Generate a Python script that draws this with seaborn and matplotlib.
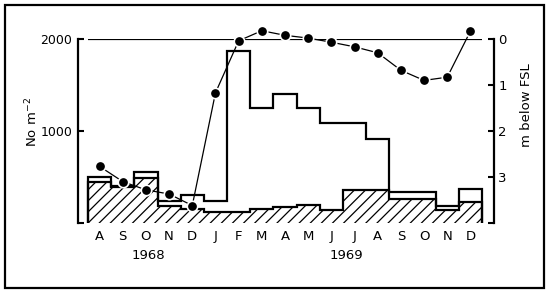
import numpy as np
import matplotlib
matplotlib.use('Agg')
import matplotlib.pyplot as plt
import seaborn as sns
from matplotlib.patches import Rectangle
from matplotlib.transforms import blended_transform_factory

# ---- data ----
months = ['A', 'S', 'O', 'N', 'D', 'J', 'F', 'M', 'A', 'M', 'J', 'J', 'A', 'S', 'O', 'N', 'D']
total_density = [495, 405, 549, 242, 300, 244, 1869, 1248, 1400, 1248, 1092, 1092, 911, 334, 334, 188, 367]
hatched_density = [446, 395, 488, 188, 150, 119, 119, 152, 174, 199, 137, 361, 361, 260, 260, 137, 224]
depth_m = [2.77, 3.10, 3.28, 3.37, 3.62, 1.17, 0.04, -0.18, -0.08, -0.02, 0.07, 0.17, 0.30, 0.68, 0.90, 0.83, -0.17]
year_labels = ['1968', '1969']
year_pos = [2.1, 10.63]
left_ticks = [0, 1000, 2000]
left_ticklabels = ['', '1000', '2000']
right_ticks = [0, 1, 2, 3, 4]
right_ticklabels = ['0', '1', '2', '3', '']

sns.set_theme(style='white', rc={'axes.edgecolor': 'black', 'text.color': 'black',
                                 'xtick.color': 'black', 'ytick.color': 'black',
                                 'axes.labelcolor': 'black'})
plt.rcParams['font.family'] = ['DejaVu Sans']
plt.rcParams['hatch.linewidth'] = 0.9
plt.rcParams['hatch.color'] = 'black'

W, H = 550, 295
fig = plt.figure(figsize=(W / 100, H / 100), dpi=100)
ax = fig.add_axes([78 / W, 1 - 223 / H, (494 - 78) / W, (223 - 39) / H])

n = len(months)
x = np.arange(n)
edges = np.arange(n + 1) - 0.5

ax.stairs(hatched_density, edges, baseline=0, fill=True, facecolor='white',
          edgecolor='black', hatch='///', lw=1.6, joinstyle='miter')
ax.stairs(total_density, edges, baseline=0, fill=False, color='black',
          lw=1.6, joinstyle='miter')

ax.set_xlim(-0.5 - 10 / 23.18, 16.5 + 12 / 23.18)
ax.set_ylim(0, 2000)
for s in ['top', 'bottom', 'right']:
    ax.spines[s].set_visible(False)
ax.spines['left'].set_linewidth(1.6)
ax.set_yticks(left_ticks, left_ticklabels)
ax.tick_params(axis='y', direction='in', length=4, width=1.5, pad=4, labelsize=9, left=True)
ax.set_xticks(x, months)
ax.tick_params(axis='x', length=0, pad=5, labelsize=9.5)

ax2 = ax.twinx()
ax2.set_ylim(4, 0)
for s in ['top', 'bottom', 'left']:
    ax2.spines[s].set_visible(False)
ax2.spines['right'].set_linewidth(1.6)
ax2.set_yticks(right_ticks, right_ticklabels)
ax2.tick_params(axis='y', direction='in', length=4, width=1.5, pad=3, labelsize=9.5, right=True)

# full supply level line
ax2.hlines(0, -0.5, 16.5, color='black', lw=1.6)
sns.lineplot(x=x, y=depth_m, ax=ax2, color='black', lw=0.9, marker='o',
             markersize=7.5, markeredgecolor='white', markeredgewidth=1.2,
             clip_on=False, zorder=5)
ax2.set_xlabel('')
ax2.set_ylabel('')

trans = blended_transform_factory(ax.transData, ax.transAxes)
for lbl, pos in zip(year_labels, year_pos):
    ax.text(pos, -0.179, lbl, transform=trans, ha='center', va='center', fontsize=9.5)

fig.text(32 / W, 1 - 122 / H, 'No m$^{-2}$', rotation=90, ha='center', va='center', fontsize=9.5)
fig.text(527 / W, 1 - 105 / H, 'm below FSL', rotation=90, ha='center', va='center', fontsize=9.5)

fig.add_artist(Rectangle((5 / W, 1 - 288 / H), (544 - 5) / W, (288 - 5) / H,
                         transform=fig.transFigure, fill=False, lw=1.6, ec='black'))

fig.savefig('out.png', dpi=100)
